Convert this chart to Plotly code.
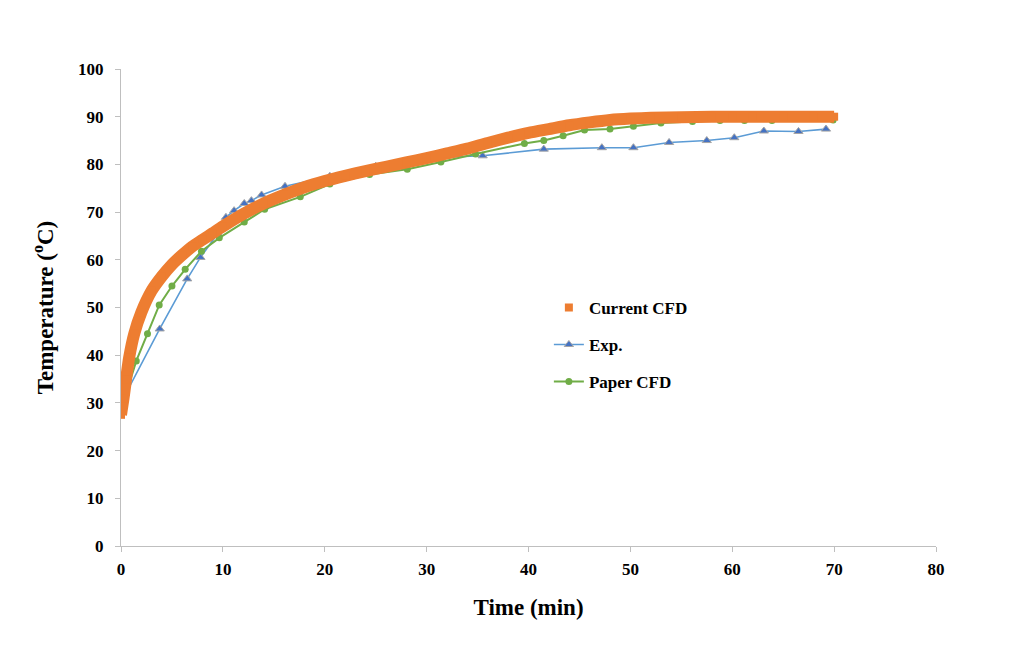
import plotly.graph_objects as go

# Current CFD (dense curve)
cfd_t = [0, 0.25, 0.5, 0.8, 1.3, 2, 3, 4, 5, 6, 7, 8, 9, 10, 12, 14, 16, 18, 20, 22, 24, 26, 28,
         30, 32, 34, 36, 38, 40, 42, 44, 46, 48, 50, 52, 55, 58, 60, 62, 65, 68, 70]
cfd_T = [27.5, 31, 35, 39.5, 44.5, 49, 53.5, 56.5, 59, 61, 62.8, 64.2, 65.6, 67, 69.6, 71.8, 73.6,
         75.2, 76.5, 77.6, 78.6, 79.5, 80.4, 81.3, 82.3, 83.3, 84.5, 85.6, 86.6, 87.4, 88.2, 88.8,
         89.3, 89.6, 89.8, 89.9, 90.0, 90.0, 90.0, 90.0, 90.0, 90.0]

# Experimental
exp_t = [0, 3.8, 6.5, 7.8, 9.5, 10.3, 11.1, 12.1, 12.8, 13.8, 16.1, 20.5, 25.0, 30.5, 35.5, 41.5,
         47.2, 50.3, 53.8, 57.5, 60.2, 63.1, 66.5, 69.2]
exp_T = [30, 45.5, 56, 60.5, 65.5, 68.9, 70.3, 71.8, 72.4, 73.6, 75.4, 77.5, 79.6, 81.4, 81.8, 83.2,
         83.5, 83.5, 84.6, 85.0, 85.6, 87.0, 86.9, 87.4]

# Paper CFD
pap_t = [0, 1.5, 2.6, 3.75, 5.0, 6.3, 7.9, 9.65, 12.1, 14.1, 17.6, 20.5, 24.4, 28.1, 31.4, 34.8,
         39.6, 41.5, 43.4, 45.5, 48.0, 50.3, 53.0, 56.1, 58.8, 61.2, 63.9, 67.4, 69.9]
pap_T = [28.5, 38.8, 44.5, 50.5, 54.5, 58, 61.8, 64.6, 67.9, 70.6, 73.2, 75.9, 77.9, 79.0, 80.5, 82.2,
         84.4, 85.0, 86.0, 87.2, 87.4, 88.0, 88.7, 89.0, 89.2, 89.2, 89.2, 89.6, 89.3]

x_ticks = list(range(0, 81, 10))
y_ticks = list(range(0, 101, 10))

ORANGE = "#ED7D31"
BLUE = "#5B9BD5"
GREEN = "#70AD47"
FONT = "Liberation Serif"

fig = go.Figure()

fig.add_trace(go.Scatter(x=exp_t, y=exp_T, mode="lines+markers", name="Exp.",
                         line=dict(color=BLUE, width=1.6),
                         marker=dict(symbol="triangle-up", size=8, color="#4472C4",
                                     line=dict(color="#A5A5A5", width=1)),
                         legendgroup="b", legendrank=2))
fig.add_trace(go.Scatter(x=pap_t, y=pap_T, mode="lines+markers", name="Paper CFD",
                         line=dict(color=GREEN, width=2),
                         marker=dict(symbol="circle", size=7, color=GREEN),
                         legendgroup="c", legendrank=3))
fig.add_trace(go.Scatter(x=cfd_t, y=cfd_T, mode="lines", showlegend=False,
                         line=dict(color=ORANGE, width=12, shape="spline", smoothing=0.6),
                         hoverinfo="skip"))
fig.add_trace(go.Scatter(x=cfd_t, y=cfd_T, mode="markers", name="Current CFD",
                         marker=dict(symbol="square", size=8, color=ORANGE),
                         legendgroup="a", legendrank=1))

axis_common = dict(showgrid=False, zeroline=False, showline=True, linecolor="#BFBFBF",
                   linewidth=1, ticks="outside", tickcolor="#BFBFBF", ticklen=5,
                   tickfont=dict(family=FONT, size=17, color="black", weight="bold"))

fig.update_layout(
    width=1020, height=664,
    paper_bgcolor="white", plot_bgcolor="white",
    margin=dict(l=113, r=92, t=61, b=126),
    xaxis=dict(range=[0, 80], tickvals=x_ticks, ticklabelstandoff=3, **axis_common,
               title=dict(text="<b>Time (min)</b>", font=dict(family=FONT, size=23, color="black"),
                          standoff=20)),
    yaxis=dict(range=[0, 100], tickvals=y_ticks, ticklabelstandoff=8, **axis_common,
               title=dict(text="<b>Temperature (<sup>o</sup>C)</b>",
                          font=dict(family=FONT, size=23, color="black"), standoff=18)),
    legend=dict(x=0.525, y=0.537, xanchor="left", yanchor="top",
                font=dict(family=FONT, size=17, color="black", weight="bold"),
                traceorder="grouped", tracegroupgap=12, bgcolor="rgba(0,0,0,0)",
                itemwidth=30),
    showlegend=True,
)

fig.write_html("out.html")
